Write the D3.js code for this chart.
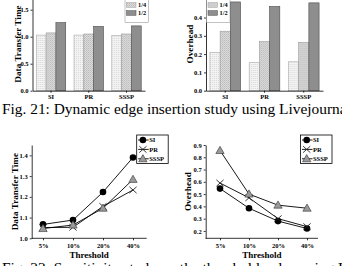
<!DOCTYPE html>
<html>
<head>
<meta charset="utf-8">
<title>Fig 21 / Fig 22</title>
<script src="https://d3js.org/d3.v7.min.js"></script>
<style>
  body { margin: 0; background: #fff; }
  svg, text { font-family: "Liberation Serif", "Times New Roman", "DejaVu Serif", serif; }
  .axis path, .axis line { stroke: #000; stroke-width: 0.8; }
  .axis text { font-family: "Liberation Serif", serif; font-size: 6.5px; font-weight: bold; fill: #000; }
</style>
</head>
<body>
<script>
// bar charts (Fig. 21)
var apps = ['SI', 'PR', 'SSSP'];
var ratios = ['1/8', '1/4', '1/2'];
var dtt18 = [1.03, 1.03, 1.02];
var dtt14 = [1.07, 1.05, 1.05];
var dtt12 = [1.26, 1.19, 1.20];
var ovh18 = [0.21, 0.153, 0.158];
var ovh14 = [0.325, 0.268, 0.264];
var ovh12 = [0.485, 0.46, 0.48];

// line charts (Fig. 22)
var thresholds = ['5%', '10%', '20%', '40%'];
var algos = ['SI', 'PR', 'SSSP'];
var dttSI = [1.067, 1.088, 1.223, 1.39];
var dttPR = [1.052, 1.053, 1.154, 1.233];
var dttSSSP = [1.047, 1.064, 1.145, 1.284];
var ovhSI = [0.545, 0.385, 0.28, 0.22];
var ovhPR = [0.59, 0.47, 0.30, 0.235];
var ovhSSSP = [0.855, 0.50, 0.41, 0.385];

var svg = d3.select('body').append('svg')
  .attr('width', 342).attr('height', 266)
  .attr('font-family', 'Liberation Serif, serif');

var defs = svg.append('defs');
var p0 = defs.append('pattern').attr('id', 'pat0').attr('patternUnits', 'userSpaceOnUse')
  .attr('width', 2).attr('height', 2);
p0.append('rect').attr('width', 2).attr('height', 2).attr('fill', '#f3f3f3');
p0.append('rect').attr('width', 1).attr('height', 1).attr('fill', '#d8d8d8');
var p1 = defs.append('pattern').attr('id', 'pat1').attr('patternUnits', 'userSpaceOnUse')
  .attr('width', 2).attr('height', 2);
p1.append('rect').attr('width', 2).attr('height', 2).attr('fill', '#dedede');
p1.append('rect').attr('width', 1).attr('height', 1).attr('fill', '#b8b8b8');
p1.append('rect').attr('x', 1).attr('y', 1).attr('width', 1).attr('height', 1).attr('fill', '#c4c4c4');

var barFill = ['url(#pat0)', 'url(#pat1)', '#8e8e8e'];
var barStroke = ['#a8a8a8', '#9a9a9a', '#4a4a4a'];

function barChart(o) {
  var g = svg.append('g');
  var x = d3.scaleBand().domain(apps).range([o.x0, o.x1]).paddingInner(0.22).paddingOuter(0.1);
  var xs = d3.scaleBand().domain(ratios).range([0, x.bandwidth()]);
  var y = d3.scaleLinear().domain(o.yDom).range([o.yBase, o.yTop]);

  var rows = apps.map(function(a, i) {
    return { app: a, vals: o.series.map(function(s) { return s[i]; }) };
  });
  g.selectAll('g.grp').data(rows).join('g').attr('class', 'grp')
    .attr('transform', function(d) { return 'translate(' + x(d.app) + ',0)'; })
    .selectAll('rect')
    .data(function(d) { return d.vals.map(function(v, k) { return { k: k, v: v }; }); })
    .join('rect')
    .attr('x', function(d) { return xs(ratios[d.k]); })
    .attr('width', xs.bandwidth())
    .attr('y', function(d) { return y(d.v); })
    .attr('height', function(d) { return y(0) - y(d.v); })
    .attr('fill', function(d) { return barFill[d.k]; })
    .attr('stroke', function(d) { return barStroke[d.k]; })
    .attr('stroke-width', 0.6);

  g.append('g').attr('class', 'axis').attr('transform', 'translate(0,' + o.yBase + ')')
    .call(d3.axisBottom(x).tickSize(2).tickSizeOuter(0).tickPadding(1.8));
  g.append('g').attr('class', 'axis').attr('transform', 'translate(' + o.x0 + ',0)')
    .call(d3.axisLeft(y).tickValues(o.yTicks).tickFormat(d3.format('.1f'))
      .tickSize(2).tickSizeOuter(0).tickPadding(2));

  g.append('text')
    .attr('transform', 'translate(' + o.titleX + ',' + o.titleY + ') rotate(-90)')
    .attr('text-anchor', 'middle').attr('font-size', '9.2px').attr('font-weight', 'bold')
    .text(o.title);

  // legend; its first row sits above the picture, only its swatch edge shows
  var lg = g.append('g').attr('transform', 'translate(' + o.legX + ',' + o.legY + ')');
  lg.append('rect').attr('x', 0).attr('y', -4).attr('width', o.legW).attr('height', 29.5)
    .attr('fill', '#fff').attr('stroke', '#888').attr('stroke-width', 0.5);
  var it = lg.selectAll('g').data(ratios).join('g')
    .attr('transform', function(d, i) { return 'translate(0,' + (i * 8) + ')'; });
  it.append('rect').attr('x', 1.5).attr('y', -2.3).attr('width', 9.5).attr('height', 4.6)
    .attr('fill', function(d, i) { return barFill[i]; })
    .attr('stroke', function(d, i) { return barStroke[i]; }).attr('stroke-width', 0.5);
  it.filter(function(d, i) { return i > 0; })
    .append('text').attr('x', 13).attr('y', 2.2)
    .attr('font-size', '6.3px').attr('font-weight', 'bold').text(function(d) { return d; });
}

barChart({ x0: 32.5, x1: 145, yBase: 90.7, yTop: -3.8, yDom: [0, 1.75], yTicks: [0, 0.5, 1.0, 1.5],
  series: [dtt18, dtt14, dtt12], title: 'Data Transfer Time', titleX: 20.5, titleY: 44,
  legX: 125, legY: -3, legW: 23.5 });
barChart({ x0: 206, x1: 323, yBase: 90.7, yTop: -0.8, yDom: [0, 0.5], yTicks: [0, 0.1, 0.2, 0.3, 0.4],
  series: [ovh18, ovh14, ovh12], title: 'Overhead', titleX: 192.5, titleY: 44,
  legX: 206.5, legY: -3, legW: 23.5 });

function marker(sel, name) {
  if (name === 'SI') {
    sel.append('circle').attr('r', 3.3).attr('fill', '#000');
  } else if (name === 'PR') {
    sel.append('path').attr('d', 'M-3.6,-3.2L3.6,3.2M-3.6,3.2L3.6,-3.2')
      .attr('stroke', '#222').attr('stroke-width', 0.9).attr('fill', 'none');
  } else {
    sel.append('path').attr('d', d3.symbol(d3.symbolTriangle, 30)())
      .attr('transform', 'translate(0,0.6)')
      .attr('fill', '#9a9a9a').attr('stroke', '#333').attr('stroke-width', 0.6);
  }
}

function lineChart(o) {
  var g = svg.append('g');
  var x = d3.scalePoint().domain(thresholds).range([o.p0, o.p1]);
  var y = d3.scaleLinear().domain(o.yDom).range([o.yBase, o.yTop]);
  var line = d3.line().x(function(d, i) { return x(thresholds[i]); }).y(function(d) { return y(d); });

  var xAxis = d3.axisBottom(x).tickSize(2).tickSizeOuter(0).tickPadding(3);
  var ax = g.append('g').attr('class', 'axis').attr('transform', 'translate(0,' + o.yBase + ')').call(xAxis);
  ax.select('.domain').attr('d', 'M' + o.x0 + ',0H' + o.x1);
  g.append('g').attr('class', 'axis').attr('transform', 'translate(' + o.x0 + ',0)')
    .call(d3.axisLeft(y).tickValues(o.yTicks).tickFormat(d3.format('.1f'))
      .tickSize(2).tickSizeOuter(0).tickPadding(2));

  o.series.forEach(function(s) {
    g.append('path').attr('d', line(s)).attr('fill', 'none')
      .attr('stroke', '#000').attr('stroke-width', 0.9);
  });
  o.series.forEach(function(s, k) {
    g.selectAll(null).data(s).join('g')
      .attr('transform', function(d, i) { return 'translate(' + x(thresholds[i]) + ',' + y(d) + ')'; })
      .each(function() { marker(d3.select(this), algos[k]); });
  });

  g.append('text')
    .attr('transform', 'translate(' + o.titleX + ',' + ((o.yBase + o.yTop) / 2) + ') rotate(-90)')
    .attr('text-anchor', 'middle').attr('font-size', '9.2px').attr('font-weight', 'bold')
    .text(o.title);
  g.append('text').attr('x', (o.x0 + o.x1) / 2).attr('y', 258)
    .attr('text-anchor', 'middle').attr('font-size', '9px').attr('font-weight', 'bold')
    .text('Threshold');

  var lg = g.append('g').attr('transform', 'translate(' + o.legX + ',135)');
  lg.append('rect').attr('width', 31.5).attr('height', 28.5)
    .attr('fill', '#fff').attr('stroke', '#000').attr('stroke-width', 0.8);
  var it = lg.selectAll('g').data(algos).join('g')
    .attr('transform', function(d, i) { return 'translate(0,' + (5 + i * 9.4) + ')'; });
  it.append('line').attr('x1', 1.5).attr('x2', 12).attr('stroke', '#000').attr('stroke-width', 0.9);
  it.append('g').attr('transform', 'translate(6.2,0)').each(function(d) { marker(d3.select(this), d); });
  it.append('text').attr('x', 12.5).attr('y', 2.2)
    .attr('font-size', '6.5px').attr('font-weight', 'bold').text(function(d) { return d; });
}

lineChart({ x0: 31.7, x1: 146.7, p0: 43, p1: 133, yBase: 238.3, yTop: 145, yDom: [1.0, 1.45],
  yTicks: [1.0, 1.1, 1.2, 1.3, 1.4], series: [dttSI, dttPR, dttSSSP],
  title: 'Data Transfer Time', titleX: 18, legX: 136.7 });
lineChart({ x0: 205.7, x1: 318, p0: 220, p1: 307, yBase: 238.3, yTop: 145, yDom: [0.14, 0.9],
  yTicks: [0.2, 0.3, 0.4, 0.5, 0.6, 0.7, 0.8, 0.9], series: [ovhSI, ovhPR, ovhSSSP],
  title: 'Overhead', titleX: 191, legX: 300.5 });

// captions (both run past the picture's edges, as in the scan)
svg.append('text').attr('x', 2).attr('y', 114.3).attr('font-size', '15.4px')
  .text('Fig. 21: Dynamic edge insertion study using Livejournal.');
svg.append('text').attr('x', 2).attr('y', 273).attr('font-size', '15.4px')
  .text('Fig. 22: Sensitivity study on the threshold value using Livejournal.');
</script>
</body>
</html>
